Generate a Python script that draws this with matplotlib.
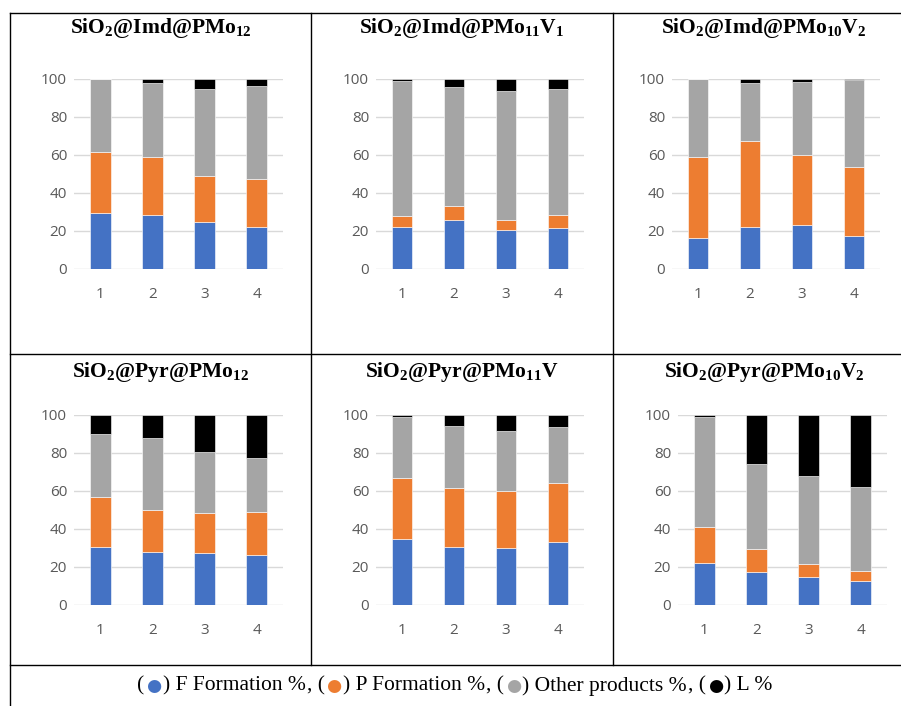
import matplotlib
matplotlib.use("Agg")
import matplotlib.pyplot as plt
from matplotlib.lines import Line2D
from matplotlib.offsetbox import TextArea, HPacker, AnnotationBbox

plt.rcParams["mathtext.fontset"] = "custom"
plt.rcParams["mathtext.rm"] = "Liberation Serif:bold"
plt.rcParams["mathtext.it"] = "Liberation Serif:bold"
plt.rcParams["mathtext.bf"] = "Liberation Serif:bold"

# run number on the x axis
runs = [1, 2, 3, 4]
series_names = ["F Formation %", "P Formation %", "Other products %", "L %"]
colors = ["#4472C4", "#ED7D31", "#A5A5A5", "#000000"]

titles = [
    "SiO$_{2}$@Imd@PMo$_{12}$",
    "SiO$_{2}$@Imd@PMo$_{11}$V$_{1}$",
    "SiO$_{2}$@Imd@PMo$_{10}$V$_{2}$",
    "SiO$_{2}$@Pyr@PMo$_{12}$",
    "SiO$_{2}$@Pyr@PMo$_{11}$V",
    "SiO$_{2}$@Pyr@PMo$_{10}$V$_{2}$",
]

# segment values (%) per panel: F, P, other, L
f_form = [
    [29.4, 28.2, 25.0, 22.2],
    [21.9, 25.6, 20.3, 21.7],
    [16.1, 21.9, 22.9, 17.3],
    [30.5, 28.0, 27.5, 26.1],
    [35.0, 30.6, 30.1, 33.3],
    [22.2, 17.2, 14.9, 12.8],
]
p_form = [
    [32.2, 30.8, 24.2, 25.3],
    [6.1, 7.5, 5.4, 6.5],
    [42.7, 45.5, 37.2, 36.6],
    [26.1, 21.9, 20.8, 22.6],
    [32.1, 31.2, 29.8, 30.8],
    [19.0, 12.4, 6.8, 5.2],
]
other_prod = [
    [38.4, 38.7, 45.4, 48.6],
    [71.1, 62.5, 68.2, 66.5],
    [41.2, 30.3, 38.1, 45.6],
    [33.6, 38.2, 32.4, 28.9],
    [31.8, 32.2, 31.7, 29.4],
    [57.9, 44.5, 46.1, 44.2],
]
l_pct = [
    [0.0, 2.3, 5.4, 3.9],
    [0.9, 4.4, 6.1, 5.3],
    [0.0, 2.3, 1.8, 0.5],
    [9.8, 11.9, 19.3, 22.4],
    [1.1, 6.0, 8.4, 6.5],
    [0.9, 25.9, 32.2, 37.8],
]

W, H = 901, 706
fig = plt.figure(figsize=(W / 100, H / 100), dpi=100)
fig.patch.set_facecolor("white")

# axes boxes in pixels: x-left, x-right, y of 100, y of 0
boxes = [
    (74, 283, 79, 269),
    (376, 584, 79, 269),
    (672, 880, 79, 269),
    (74, 283, 415, 605),
    (376, 584, 415, 605),
    (678, 887, 415, 605),
]
title_pos = [(161, 28), (462, 28), (764, 28), (161, 372), (462, 372), (764, 372)]

for i, (x0, x1, yt, yb) in enumerate(boxes):
    ax = fig.add_axes([x0 / W, 1 - yb / H, (x1 - x0) / W, (yb - yt) / H])
    bottom = [0.0] * 4
    for vals, c in zip([f_form[i], p_form[i], other_prod[i], l_pct[i]], colors):
        ax.bar(runs, vals, width=0.4, bottom=bottom, color=c,
               edgecolor="white", linewidth=0.4, zorder=3)
        bottom = [b + v for b, v in zip(bottom, vals)]
    ax.set_xlim(0.5, 4.5)
    ax.set_ylim(0, 100)
    ax.set_yticks([0, 20, 40, 60, 80, 100])
    ax.set_xticks(runs)
    ax.grid(True, axis="y", color="#D9D9D9", linewidth=1.0, zorder=0)
    ax.set_axisbelow(True)
    for s in ax.spines.values():
        s.set_visible(False)
    ax.tick_params(length=0, labelsize=11, labelcolor="#595959")
    ax.tick_params(axis="x", pad=13)
    ax.tick_params(axis="y", pad=5)
    for lab in ax.get_xticklabels() + ax.get_yticklabels():
        lab.set_fontfamily("Open Sans")
    tx, ty = title_pos[i]
    fig.text(tx / W, 1 - ty / H, titles[i], ha="center", va="center",
             fontsize=15.5, fontweight="bold", family="Liberation Serif")

# table borders
def hline(y, xa, xb):
    fig.add_artist(Line2D([xa / W, xb / W], [1 - y / H, 1 - y / H],
                          color="black", linewidth=1.0))

def vline(x, ya, yb):
    fig.add_artist(Line2D([x / W, x / W], [1 - ya / H, 1 - yb / H],
                          color="black", linewidth=1.0))

hline(13, 10, W)
hline(354, 10, W)
hline(665, 10, W)
vline(10, 13, H)
vline(311, 13, 665)
vline(613, 13, 665)

# legend row
parts = []
for k, (name, c) in enumerate(zip(series_names, colors)):
    sep = "" if k == 0 else ", "
    parts.append(TextArea(sep + "(", textprops=dict(family="Liberation Serif", size=15.5)))
    parts.append(TextArea("\u25CF", textprops=dict(family="DejaVu Sans", size=12.5, color=c)))
    parts.append(TextArea(") " + name, textprops=dict(family="Liberation Serif", size=15.5)))
pack = HPacker(children=parts, align="baseline", pad=0, sep=1)
ab = AnnotationBbox(pack, (455, H - 686), xycoords="figure pixels",
                    box_alignment=(0.5, 0.5), frameon=False)
fig.add_artist(ab)

fig.savefig("out.png", dpi=100, facecolor="white")
